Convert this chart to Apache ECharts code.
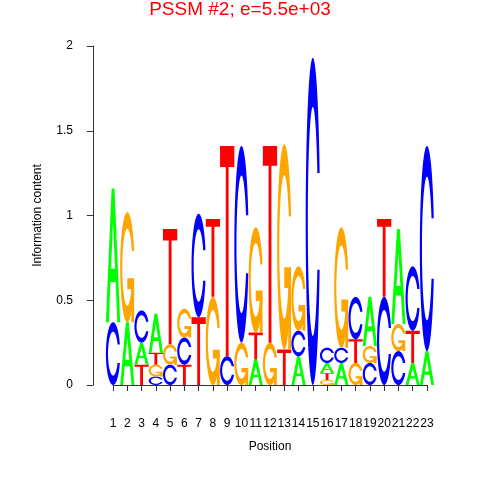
<!DOCTYPE html>
<html>
<head>
<meta charset="utf-8">
<script src="https://cdn.jsdelivr.net/npm/echarts@6/dist/echarts.min.js"></script>
<style>html,body{margin:0;padding:0;background:#fff}#c{width:480px;height:480px}</style>
</head>
<body>
<div id="c"></div>
<script>
// ---- data ----
const positions = [1,2,3,4,5,6,7,8,9,10,11,12,13,14,15,16,17,18,19,20,21,22,23];
// letters of each column, bottom to top
const stackLetters = ['CA','AG','TAC','CGTA','CGT','TCG','TC','GT','CT','GC','ATG','GT','TG','ACG','C','GTAC','ACG','GTC','CGA','CT','CGA','ATC','AC'];
// information content (bits) of each letter, same order
const stackHeights = [
  [0.37,0.79],
  [0.37,0.65],
  [0.12,0.13,0.19],
  [0.05,0.07,0.07,0.23],
  [0.12,0.12,0.68],
  [0.12,0.16,0.17],
  [0.40,0.61],
  [0.52,0.46],
  [0.17,1.24],
  [0.25,1.16],
  [0.15,0.16,0.62],
  [0.25,1.16],
  [0.21,1.21],
  [0.17,0.15,0.38],
  [1.93],
  [0.03,0.04,0.06,0.09],
  [0.13,0.09,0.71],
  [0.13,0.14,0.25],
  [0.13,0.10,0.29],
  [0.52,0.46],
  [0.20,0.16,0.56],
  [0.13,0.19,0.38],
  [0.20,1.21]
];
const yTicks = [0, 0.5, 1, 1.5, 2];
const letterColors = {A:'#00FF00', C:'#0000FF', G:'#FFA500', T:'#FF0000'};
const letterCodes = ['A','C','G','T'];

// ---- glyph shapes (unit box, v up) ----
function cRing(){
  const n = 100, a1 = [], a2 = [];
  for (let i=0;i<n;i++){ a1.push(0.3+Math.PI/2 + (Math.PI-(0.3+Math.PI/2))*i/(n-1)); a2.push(Math.PI + (0.5*Math.PI)*i/(n-1)); }
  const xl = [], yl = [];
  a1.concat(a2).forEach(a=>{ xl.push(0.5+0.5*Math.sin(a)); yl.push(0.5+0.5*Math.cos(a)); });
  const maxY1 = 0.5+0.5*Math.cos(a1[0]);
  const outer = [];
  for (let i=0;i<xl.length;i++) outer.push([xl[i],yl[i]]);
  for (let i=xl.length-1;i>=0;i--) outer.push([xl[i],1-yl[i]]);
  const xi = [], yi = [];
  let first = true;
  a1.forEach(a=>{ const y=0.5+0.35*Math.cos(a); if (y<=maxY1){ xi.push(0.5+0.35*Math.sin(a)); yi.push(first?maxY1:y); first=false; } });
  a2.forEach(a=>{ xi.push(0.5+0.35*Math.sin(a)); yi.push(0.5+0.35*Math.cos(a)); });
  const inner = [];
  for (let i=0;i<xi.length;i++) inner.push([xi[i],yi[i]]);
  for (let i=xi.length-1;i>=0;i--) inner.push([xi[i],1-yi[i]]);
  return outer.concat(inner.reverse());
}
const ring = cRing();
const r1 = 0.5+0.5*Math.cos(0.3);
const glyphs = {
  A: [[ [[0,0],[0.4,1],[0.6,1],[1,0],[0.8,0],[0.68,0.3],[0.32,0.3],[0.2,0]], [[0.36,0.4],[0.64,0.4],[0.5,0.75]] ]],
  C: [[ ring ]],
  G: [[ ring ], [ [[r1,0.4],[0.5,0.4],[0.5,0.3],[r1-0.2,0.3],[r1-0.2,0],[r1,0]] ]],
  T: [[ [[0,1],[1,1],[1,0.9],[0.6,0.9],[0.6,0],[0.4,0],[0.4,0.9],[0,0.9]] ]]
};

// ---- build letter boxes from the arrays ----
const boxes = [];
positions.forEach((p, j) => {
  let base = 0;
  const ls = stackLetters[j], hs = stackHeights[j];
  for (let k=0;k<ls.length;k++){
    boxes.push([p, base, base+hs[k], letterCodes.indexOf(ls[k])]);
    base += hs[k];
  }
});

function renderLetter(params, api){
  const x = api.value(0), y0 = api.value(1), y1 = api.value(2);
  const L = letterCodes[api.value(3)];
  const p0 = api.coord([x-0.5, y0]);
  const p1 = api.coord([x+0.5, y1]);
  const w = p1[0]-p0[0], h = p1[1]-p0[1];
  const children = glyphs[L].map(part => {
    let d = '';
    part.forEach(rg => {
      rg.forEach((pt,i) => {
        d += (i===0?'M':'L') + (p0[0]+pt[0]*w).toFixed(2) + ' ' + (p0[1]+pt[1]*h).toFixed(2) + ' ';
      });
      d += 'Z ';
    });
    return {type:'path', shape:{pathData:d}, style:{fill:letterColors[L], stroke:null}};
  });
  return {type:'group', children};
}

const chart = echarts.init(document.getElementById('c'), null, {renderer:'canvas'});
const axisColor = '#333';
const fam = '"Liberation Sans", Arial, sans-serif';
chart.setOption({
  animation: false,
  backgroundColor: '#fff',
  graphic: [{
    type:'text', x: 240, y: 10,
    style:{text:'PSSM #2; e=5.5e+03', fill:'#FF0000', font:'19px "Liberation Sans", Arial, sans-serif', textAlign:'center', textVerticalAlign:'middle'}
  }],
  grid: [
    {left: 105.9, right: 45.9, top: 46, bottom: 95},
    {left: 113, right: 53, top: 46, bottom: 95}
  ],
  xAxis: [
    {gridIndex:0, type:'value', min:0.5, max:23.5, show:false},
    {gridIndex:1, type:'value', min:1, max:23, interval:1, offset:17,
     axisLine:{show:true, lineStyle:{color:axisColor, width:1}},
     axisTick:{show:true, length:6, lineStyle:{color:axisColor}},
     axisLabel:{show:true, margin:16, fontSize:12, color:'#000', fontFamily:fam},
     splitLine:{show:false},
     name:'Position', nameLocation:'middle', nameGap:39,
     nameTextStyle:{fontSize:12, color:'#000', fontFamily:fam}}
  ],
  yAxis: [
    {gridIndex:0, type:'value', min:yTicks[0], max:yTicks[yTicks.length-1], interval:0.5, offset:13,
     axisLine:{show:true, lineStyle:{color:axisColor, width:1}},
     axisTick:{show:true, length:6, lineStyle:{color:axisColor}},
     axisLabel:{show:true, margin:20, fontSize:12, color:'#000', fontFamily:fam},
     splitLine:{show:false},
     name:'Information content', nameLocation:'middle', nameGap:49, nameRotate:90,
     nameTextStyle:{fontSize:12, color:'#000', fontFamily:fam}},
    {gridIndex:1, type:'value', min:0, max:2, show:false}
  ],
  series: [{
    type:'custom', xAxisIndex:0, yAxisIndex:0, silent:true,
    encode:{x:0, y:[1,2]},
    data: boxes,
    renderItem: renderLetter
  }]
});
</script>
</body>
</html>
